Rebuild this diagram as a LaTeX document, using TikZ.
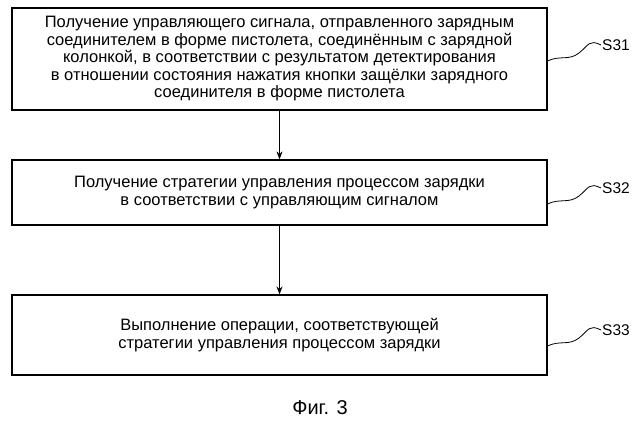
\documentclass[tikz,border=0pt]{standalone}
\usepackage{fontspec}
\setmainfont{Liberation Sans}
\usetikzlibrary{arrows.meta,calc}
\begin{document}
\begin{tikzpicture}[x=1pt,y=-1pt,
  stepbox/.style={draw,line width=1.2pt,minimum width=535pt,align=center,font=\fontsize{16.5}{17.5}\selectfont,inner sep=0pt},
  lbl/.style={font=\fontsize{15.5}{17}\selectfont,anchor=west,inner sep=1pt},
  arr/.style={-{Stealth[length=8pt,width=6pt]},line width=1pt},
  sq/.style={line width=0.8pt}]
\useasboundingbox (0,0) rectangle (640,429);
\node[stepbox,minimum height=102pt] (b1) at (279.5,59) {Получение управляющего сигнала, отправленного зарядным\\соединителем в форме пистолета, соединённым с зарядной\\колонкой, в соответствии с результатом детектирования\\в отношении состояния нажатия кнопки защёлки зарядного\\соединителя в форме пистолета};
\node[stepbox,minimum height=65pt] (b2) at (279.5,192.5) {Получение стратегии управления процессом зарядки\\в соответствии с управляющим сигналом};
\node[stepbox,minimum height=80pt] (b3) at (279.5,335) {Выполнение операции, соответствующей\\стратегии управления процессом зарядки};
\draw[arr] (b1) -- (b2);
\draw[arr] (b2) -- (b3);
\node[lbl] (s1) at (601,45) {S31};
\node[lbl] (s2) at (601,188) {S32};
\node[lbl] (s3) at (601,330) {S33};
\foreach \s/\b in {s1/b1,s2/b2,s3/b3}{
  \draw[sq] (\s.west) .. controls +(-12,-6) and +(10,-8) .. ($(\s.west)+(-22,8)$)
    .. controls +(-10,8) and +(12,-6) .. (\b.east |- {$(\s.west)+(0,16)$});
}
\node[font=\fontsize{20}{22}\selectfont] (fig) at (320,408) {Фиг. 3};
\end{tikzpicture}
\end{document}
